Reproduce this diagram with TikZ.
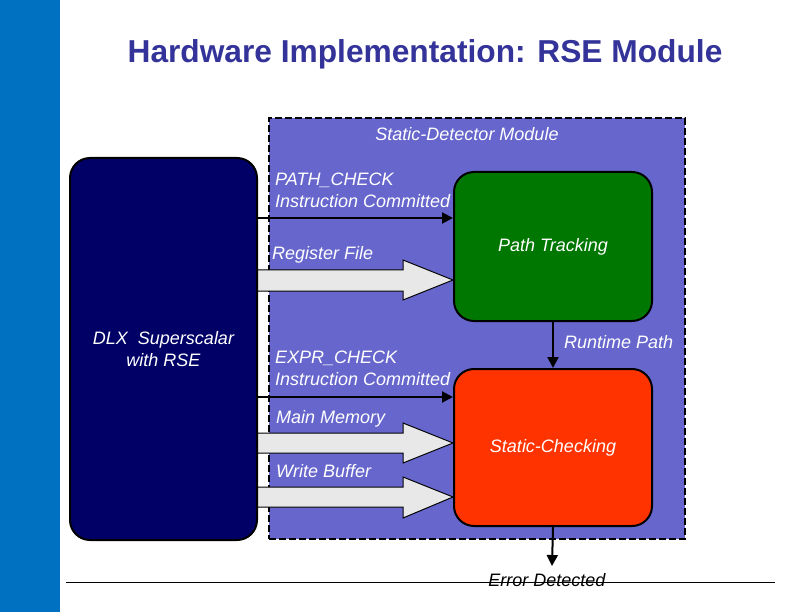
\documentclass[tikz,border=0pt]{standalone}
\usepackage{fontspec}
\setmainfont{Liberation Sans}
\usetikzlibrary{arrows.meta,calc}
\definecolor{barblue}{HTML}{0070C0}
\definecolor{titleblue}{HTML}{333399}
\definecolor{navy}{HTML}{000066}
\definecolor{detfill}{HTML}{6666CC}
\definecolor{trackgreen}{HTML}{007700}
\definecolor{checkred}{HTML}{FF3300}
\definecolor{shaftgray}{HTML}{E8E8E8}
\tikzset{
  titletext/.style={font=\fontsize{31.7}{36}\selectfont\bfseries, text=titleblue, inner sep=0pt},
  lbl/.style={font=\fontsize{18}{22}\selectfont\itshape, text=white, inner sep=0pt, align=left},
  blocknode/.style={draw=black, line width=2pt, rounded corners=20pt, inner sep=0pt,
     font=\fontsize{18}{22}\selectfont\itshape, text=white, align=center, anchor=north west},
  detbox/.style={draw=black, line width=2pt, dash pattern=on 7pt off 3pt, fill=detfill, inner sep=0pt, anchor=north west},
  conn/.style={draw=black, line width=2pt, -{Triangle[length=11pt,width=11pt]}},
  blk/.style={draw=black, line width=1pt, fill=shaftgray, line join=miter},
}
\begin{document}
\begin{tikzpicture}[x=1pt,y=-1pt]
\useasboundingbox (0,0) rectangle (792,612);
\fill[barblue] (0,0) rectangle (60,612);
\node[titletext, anchor=base] (title) at (425,63) {Hardware Implementation: RSE Module};

\node[detbox, minimum width=416pt, minimum height=421pt] (det) at (268,117) {};
\node[lbl, anchor=base] (detlbl) at (467,141) {Static-Detector Module};

% row coordinates
\coordinate (r1) at (0,218);
\coordinate (r2) at (0,397);
\coordinate (a1c) at (0,280);
\coordinate (a2c) at (0,443);
\coordinate (a3c) at (0,497);

\node[blocknode, fill=trackgreen, minimum width=198pt, minimum height=149pt] (pt) at (453,171) {Path Tracking};
\node[blocknode, fill=checkred, minimum width=198pt, minimum height=157pt] (sc) at (453,368) {Static-Checking};

% block arrows
\draw[blk] (256,270) -- (403,270) -- (403,260) -- (pt.west |- a1c) -- (403,300) -- (403,291) -- (256,291) -- cycle;
\draw[blk] (256,433) -- (403,433) -- (403,423) -- (sc.west |- a2c) -- (403,463) -- (403,453) -- (256,453) -- cycle;
\draw[blk] (256,487) -- (403,487) -- (403,477) -- (sc.west |- a3c) -- (403,518) -- (403,507) -- (256,507) -- cycle;

\node[blocknode, fill=navy, minimum width=187pt, minimum height=382pt] (dlx) at (69,157) {DLX\ \ Superscalar\\with RSE};

% line arrows
\draw[conn] (dlx.east |- r1) -- (pt.west |- r1);
\draw[conn] (dlx.east |- r2) -- (sc.west |- r2);
\draw[conn] (pt.south) -- (sc.north);
\coordinate (errend) at (552,566);
\draw[conn] (sc.south) -- (errend);

% labels
\node[lbl, anchor=north west] (l1) at (275,173) {PATH\_CHECK\\Instruction Committed};
\node[lbl, anchor=base west] (l2) at (272,260) {Register File};
\node[lbl, anchor=north west] (l3) at (275,351) {EXPR\_CHECK\\Instruction Committed};
\node[lbl, anchor=base west] (l4) at (276,423) {Main Memory};
\node[lbl, anchor=base west] (l5) at (276,477) {Write Buffer};
\node[lbl, anchor=base west] (l6) at (564,348) {Runtime Path};
\node[lbl, text=black, anchor=base] (l7) at (547,586) {Error Detected};

\coordinate (hl1) at (66,582);
\coordinate (hl2) at (775,582);
\draw[line width=1pt] (hl1) -- (hl2);
\end{tikzpicture}
\end{document}
